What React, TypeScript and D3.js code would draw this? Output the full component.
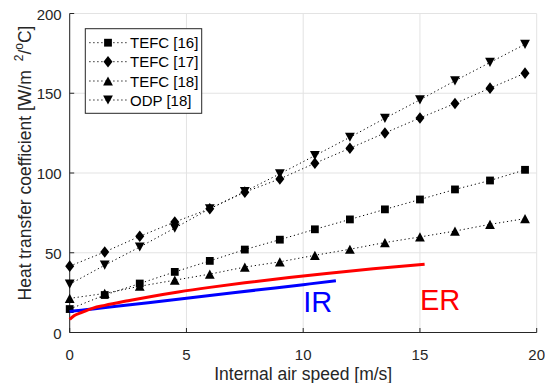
import React from "react";
import * as d3 from "d3";

const speeds = [0, 1.5, 3, 4.5, 6, 7.5, 9, 10.5, 12, 13.5, 15, 16.5, 18, 19.5];
const tefc16 = [14.7, 23.5, 30.7, 38, 44.9, 52, 58.2, 64.7, 70.9, 77.2, 83.4, 89.7, 95.3, 102];
const tefc17 = [41.6, 50.5, 60.3, 69.3, 77.6, 88, 96.3, 106.1, 115.5, 125.1, 134.5, 143.6, 153.2, 162.6];
const tefc18 = [21.4, 24.5, 29, 32.8, 36.6, 41, 44.3, 48.4, 52.2, 56.4, 59.9, 63.6, 67.8, 71.4];
const odp18 = [30.3, 42.2, 53.6, 65.5, 77.6, 88.4, 99.5, 110.9, 122.4, 134.3, 145.9, 157.8, 169.3, 180.7];

const erSpeed = [0, 0.2, 0.5, 1, 1.5, 2.5, 3.5, 4.65, 6, 7.5, 9.4, 11, 13, 15.2];
const erValue = [8.2, 10.6, 12.5, 15.3, 17.0, 19.9, 22.6, 25.4, 28.3, 31.2, 34.5, 37.0, 39.9, 42.8];
const irSpeed = [0, 0.5, 1, 2, 4, 6, 8, 10, 11.4];
const irValue = [13.2, 14.0, 14.8, 16.4, 19.8, 23.2, 26.6, 30.0, 32.4];

const xTicks = [0, 5, 10, 15, 20];
const yTicks = [0, 50, 100, 150, 200];
const seriesNames = ["TEFC [16]", "TEFC [17]", "TEFC [18]", "ODP [18]"];
const seriesMarkers = ["square", "diamond", "up", "down"];

const W = 545;
const H = 383;
const left = 69.7;
const right = 536.7;
const top = 13.5;
const bottom = 332.5;
const FONT = "'Liberation Sans', Arial, Helvetica, sans-serif";
const TXT = "#262626";

function markerPath(kind: string): string {
  const p = d3.path();
  if (kind === "square") {
    const s = 3.9;
    p.rect(-s, -s, 2 * s, 2 * s);
  } else if (kind === "diamond") {
    const w = 4.5, h = 5.8;
    p.moveTo(0, -h); p.lineTo(w, 0); p.lineTo(0, h); p.lineTo(-w, 0); p.closePath();
  } else if (kind === "up") {
    const w = 4.9, h = 4.6;
    p.moveTo(0, -h); p.lineTo(w, h); p.lineTo(-w, h); p.closePath();
  } else {
    const w = 4.9, h = 4.6;
    p.moveTo(0, h); p.lineTo(w, -h); p.lineTo(-w, -h); p.closePath();
  }
  return p.toString();
}

export default function App() {
  const x = d3.scaleLinear().domain([0, 20]).range([left, right]);
  const y = d3.scaleLinear().domain([0, 200]).range([bottom, top]);
  const series = [tefc16, tefc17, tefc18, odp18];

  const dotLine = d3.line<number>().x((_, i) => x(speeds[i])).y((d) => y(d));
  const smooth = (xs: number[], ys: number[]) =>
    d3.line<number>().x((_, i) => x(xs[i])).y((d) => y(d)).curve(d3.curveMonotoneX)(ys) || "";

  const legendRows = [42.7, 61.7, 81, 100];

  return (
    <svg width={W} height={H} style={{ position: "absolute", left: 0, top: 0, background: "#fff" }} fontFamily={FONT}>
      <rect x={0} y={0} width={W} height={H} fill="#fff" />
      {/* grid */}
      {xTicks.map((t) => (
        <line key={"gx" + t} x1={x(t)} x2={x(t)} y1={top} y2={bottom} stroke="#e3e3e3" strokeWidth={1} />
      ))}
      {yTicks.map((t) => (
        <line key={"gy" + t} x1={left} x2={right} y1={y(t)} y2={y(t)} stroke="#e3e3e3" strokeWidth={1} />
      ))}
      {/* axes */}
      <line x1={left} x2={left} y1={top} y2={bottom} stroke={TXT} strokeWidth={1} />
      <line x1={left} x2={right} y1={bottom} y2={bottom} stroke={TXT} strokeWidth={1} />
      {xTicks.map((t) => (
        <g key={"xt" + t}>
          <line x1={x(t)} x2={x(t)} y1={bottom} y2={bottom - 4.5} stroke={TXT} strokeWidth={1} />
          <text x={x(t)} y={bottom + 27} textAnchor="middle" fontSize={15} fill={TXT}>{t}</text>
        </g>
      ))}
      {yTicks.map((t) => (
        <g key={"yt" + t}>
          <line x1={left} x2={left + 4.5} y1={y(t)} y2={y(t)} stroke={TXT} strokeWidth={1} />
          <text x={left - 8} y={y(t) + 6} textAnchor="end" fontSize={15} fill={TXT}>{t}</text>
        </g>
      ))}
      {/* series */}
      {series.map((s, si) => (
        <g key={"s" + si}>
          <path d={dotLine(s) || ""} fill="none" stroke="#000" strokeWidth={1} strokeDasharray="1.2,2.8" />
          {s.map((v, i) => (
            <path key={i} d={markerPath(seriesMarkers[si])} transform={`translate(${x(speeds[i])},${y(v)})`} fill="#000" />
          ))}
        </g>
      ))}
      <path d={smooth(irSpeed, irValue)} fill="none" stroke="#0000ff" strokeWidth={3} />
      <path d={smooth(erSpeed, erValue)} fill="none" stroke="#ff0000" strokeWidth={3} />
      <text x={x(10)} y={y(13)} fontSize={29} fill="#0000ff">IR</text>
      <text x={x(15)} y={y(14)} fontSize={29} fill="#ff0000">ER</text>
      {/* legend */}
      <rect x={85.3} y={28.7} width={116.4} height={84.6} fill="#fff" stroke={TXT} strokeWidth={1} />
      {seriesNames.map((n, i) => (
        <g key={"l" + i}>
          <line x1={89.3} x2={126.7} y1={legendRows[i]} y2={legendRows[i]} stroke="#000" strokeWidth={1} strokeDasharray="1.2,2.8" />
          <path d={markerPath(seriesMarkers[i])} transform={`translate(108,${legendRows[i]})`} fill="#000" />
          <text x={130} y={legendRows[i] + 5.5} fontSize={15} fill="#000">{n}</text>
        </g>
      ))}
      {/* axis labels */}
      <text x={(left + right) / 2} y={380} textAnchor="middle" fontSize={17.5} fill={TXT}>Internal air speed [m/s]</text>
      <text transform="translate(31,163) rotate(-90)" textAnchor="middle" fontSize={17.5} fill={TXT}>
        Heat transfer coefficient [W/m<tspan fontSize={12} dx={9} dy={-8}>2</tspan><tspan dy={8}>/</tspan><tspan fontSize={12} dy={-8}>o</tspan><tspan dy={8}>C]</tspan>
      </text>
    </svg>
  );
}
